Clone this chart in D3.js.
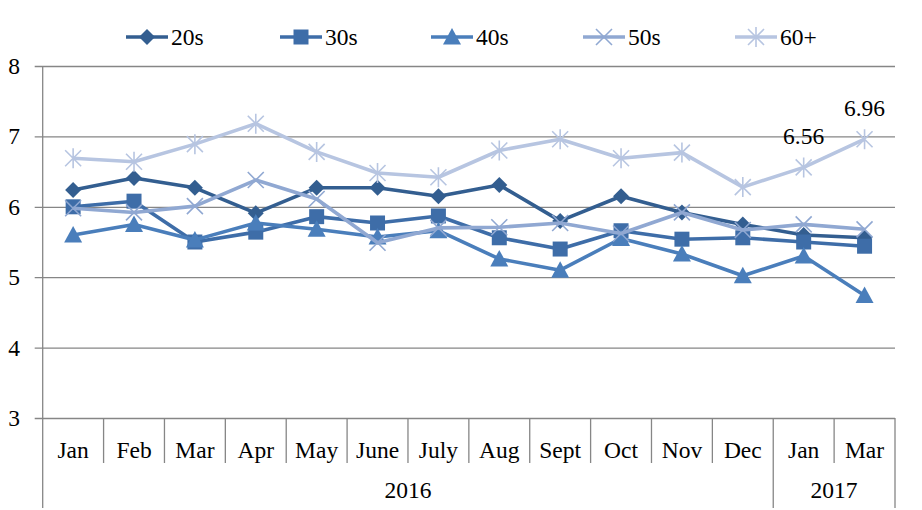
<!DOCTYPE html>
<html><head><meta charset="utf-8">
<script src="https://cdn.jsdelivr.net/npm/d3@7"></script>
<style>body{margin:0;background:#fff}</style>
</head><body><svg id="c" width="922" height="510"></svg>
<script>
const months = ["Jan","Feb","Mar","Apr","May","June","July","Aug","Sept","Oct","Nov","Dec","Jan","Mar"];
const years = [{label:"2016", from:0, to:11},{label:"2017", from:12, to:13}];
const seriesNames = ["20s","30s","40s","50s","60+"];
const s20 = [6.24,6.41,6.27,5.91,6.27,6.27,6.15,6.31,5.80,6.15,5.92,5.75,5.60,5.56];
const s30 = [6.00,6.08,5.50,5.64,5.86,5.77,5.87,5.56,5.40,5.66,5.54,5.56,5.50,5.44];
const s40 = [5.60,5.75,5.53,5.77,5.68,5.57,5.66,5.26,5.10,5.55,5.33,5.02,5.30,4.74];
const s50 = [5.98,5.92,6.01,6.38,6.11,5.49,5.70,5.71,5.77,5.62,5.92,5.67,5.75,5.68];
const s60 = [6.69,6.64,6.89,7.18,6.78,6.48,6.42,6.80,6.96,6.69,6.77,6.28,6.56,6.96];
const yTicks = [3,4,5,6,7,8];
const colors = ["#335E90","#3E6DA8","#4A7EBB","#90A8D2","#B7C5E1"];
const shapes = ["diamond","square","triangle","x","asterisk"];
const labelled = {4:[12,13]};

const FONT = "Liberation Serif";
const FS = 23.5;
const svg = d3.select("#c").attr("font-family",FONT);
const L=42.7, R=895, T=66, B=418;
const x = d3.scaleBand().domain(d3.range(months.length)).range([L,R]).padding(0);
const y = d3.scaleLinear().domain([3,8]).range([B,T]);
const allSeries = [s20,s30,s40,s50,s60];

svg.append("g").attr("transform",`translate(${R},0)`)
  .call(d3.axisLeft(y).tickValues(yTicks).tickSize(R-L+8).tickFormat(""))
  .call(g=>{g.select(".domain").remove();g.selectAll("line").attr("stroke","#868686").attr("stroke-width",1.3);});
svg.append("g").selectAll("text").data(yTicks).join("text")
  .attr("font-family",FONT)
  .attr("x",14).attr("y",d=>y(d)+8).attr("text-anchor","middle")
  .attr("font-size",FS).text(d=>d);
svg.append("line").attr("x1",L).attr("x2",L).attr("y1",T).attr("y2",508).attr("stroke","#868686").attr("stroke-width",1.3);
svg.append("line").attr("x1",R).attr("x2",R).attr("y1",B).attr("y2",508).attr("stroke","#868686").attr("stroke-width",1.3);
const bw = x.bandwidth();
const yearStarts = new Set(years.map(d=>d.from));
svg.append("g").selectAll("line").data(d3.range(1,months.length)).join("line")
  .attr("x1",d=>x(d)).attr("x2",d=>x(d)).attr("y1",B)
  .attr("y2",d=>yearStarts.has(d)?508:463)
  .attr("stroke","#868686").attr("stroke-width",1.3);
svg.append("g").selectAll("text").data(months).join("text")
  .attr("font-family",FONT)
  .attr("x",(d,i)=>x(i)+bw/2).attr("y",458).attr("text-anchor","middle").attr("font-size",FS).text(d=>d);
svg.append("g").selectAll("text").data(years).join("text")
  .attr("font-family",FONT)
  .attr("x",d=>(x(d.from)+x(d.to)+bw)/2).attr("y",498).attr("text-anchor","middle").attr("font-size",FS).text(d=>d.label);

function marker(g, shape, color, cx, cy){
  if(shape==="diamond"){
    g.append("path").attr("d",d3.symbol(d3.symbolSquare,128)()).attr("transform",`translate(${cx},${cy}) rotate(45)`).attr("fill",color);
  } else if(shape==="square"){
    g.append("path").attr("d",d3.symbol(d3.symbolSquare,225)()).attr("transform",`translate(${cx},${cy})`).attr("fill",color);
  } else if(shape==="triangle"){
    g.append("path").attr("d","M0,-9L9,7.5L-9,7.5Z").attr("transform",`translate(${cx},${cy})`).attr("fill",color);
  } else if(shape==="x"){
    g.append("path").attr("d","M-8,-8L8,8M-8,8L8,-8").attr("transform",`translate(${cx},${cy})`).attr("stroke",color).attr("stroke-width",1.6).attr("fill","none");
  } else {
    g.append("path").attr("d","M-8,-8L8,8M-8,8L8,-8M0,-10L0,10").attr("transform",`translate(${cx},${cy})`).attr("stroke",color).attr("stroke-width",1.6).attr("fill","none");
  }
}

const line = d3.line().x((d,i)=>x(i)+bw/2).y(d=>y(d));
allSeries.forEach((s,k)=>{
  const g = svg.append("g");
  g.append("path").attr("d",line(s)).attr("fill","none").attr("stroke",colors[k]).attr("stroke-width",3.6).attr("stroke-linejoin","round");
  s.forEach((v,i)=>marker(g,shapes[k],colors[k],x(i)+bw/2,y(v)));
});
Object.entries(labelled).forEach(([k,idx])=>{
  idx.forEach(i=>{
    const v = allSeries[k][i];
    svg.append("text").attr("font-family",FONT).attr("x",x(i)+bw/2).attr("y",y(v)-23.5).attr("text-anchor","middle").attr("font-size",FS).text(v.toFixed(2));
  });
});
const legX = [147,301,452,604,756];
seriesNames.forEach((n,k)=>{
  const g = svg.append("g");
  g.append("line").attr("x1",legX[k]-21).attr("x2",legX[k]+21).attr("y1",37).attr("y2",37).attr("stroke",colors[k]).attr("stroke-width",3.6);
  marker(g,shapes[k],colors[k],legX[k],37);
  g.append("text").attr("font-family",FONT).attr("x",legX[k]+24).attr("y",45).attr("font-size",FS).text(n);
});
</script></body></html>
